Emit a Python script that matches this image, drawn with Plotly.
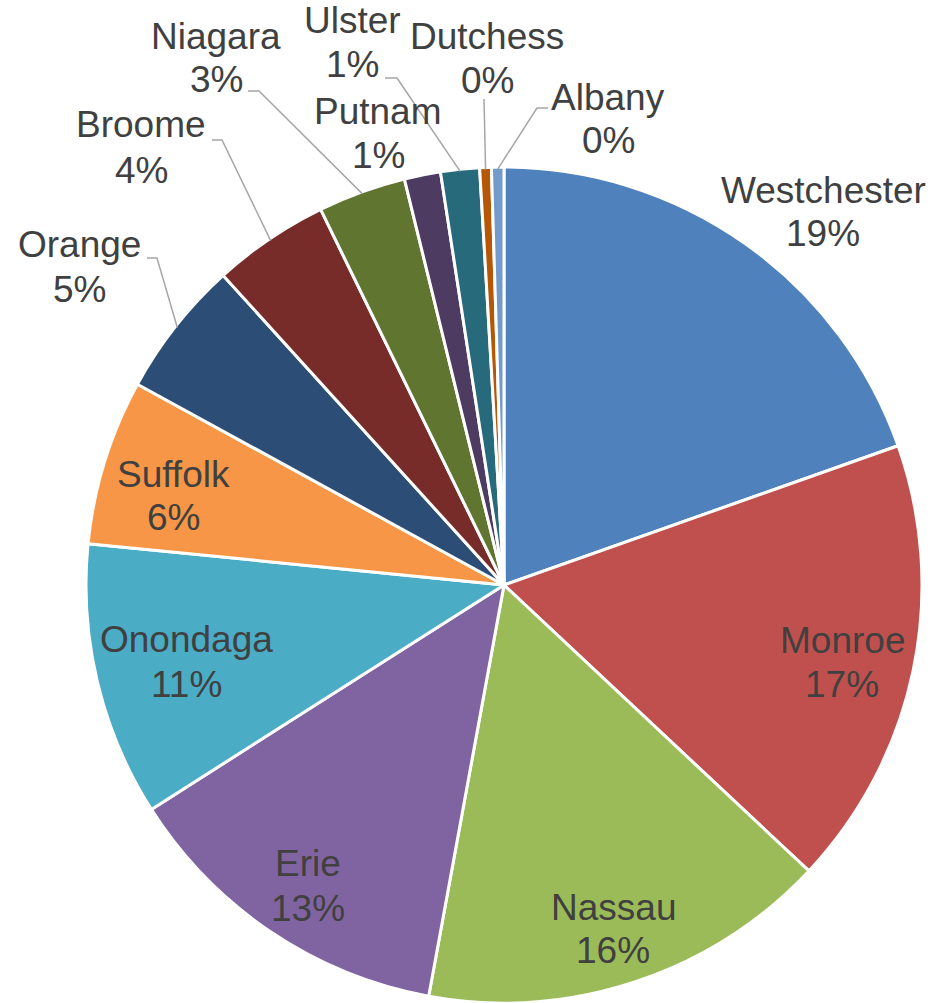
import math
import plotly.graph_objects as go

W, H = 943, 1003

counties = ["Westchester", "Monroe", "Nassau", "Erie", "Onondaga", "Suffolk", "Orange",
            "Broome", "Niagara", "Putnam", "Ulster", "Dutchess", "Albany"]
shares = [19.6, 17.4, 15.9, 13.1, 10.6, 6.4, 5.3, 4.5, 3.4, 1.4, 1.5, 0.45, 0.48]
pct_labels = ["19%", "17%", "16%", "13%", "11%", "6%", "5%", "4%", "3%", "1%", "1%", "0%", "0%"]
colors = ["#4F81BD", "#C0504D", "#9BBB59", "#8064A2", "#4BACC6", "#F79646", "#2C4D75",
          "#772C2A", "#5F7530", "#4D3B62", "#276A7C", "#B65708", "#729ACA"]

# label layout: (center x px, baseline line1 px, baseline line2 px)
label_pos = {
    "Westchester": (823, 203, 247),
    "Monroe": (842, 653, 697),
    "Nassau": (613, 920, 963),
    "Erie": (308, 876, 921),
    "Onondaga": (186, 652, 697),
    "Suffolk": (173, 487, 530),
    "Orange": (79, 258, 302),
    "Broome": (141, 138, 183),
    "Niagara": (216, 49, 92),
    "Putnam": (378, 125, 168),
    "Ulster": (352, 33, 78),
    "Dutchess": (487, 49, 93),
    "Albany": (608, 110, 153),
}
# leader line start points (px) leading toward the slice edge
leader_pts = {
    "Orange": [(147, 258), (157, 258)],
    "Broome": [(212, 140), (222, 140)],
    "Niagara": [(248, 91), (259, 91)],
    "Ulster": [(385, 78), (397, 78)],
    "Dutchess": [(484, 99)],
    "Albany": [(548, 108), (537, 108)],
}

CX, CY, R = 504, 585, 416
RD = R + 2  # domain half-size (plotly trims a little for the outline)
FS = 37
FONT = "Liberation Sans, Arial, sans-serif"
TXT = "#404040"

fig = go.Figure(go.Pie(
    labels=counties, values=shares, sort=False, direction="clockwise", rotation=0,
    marker=dict(colors=colors, line=dict(color="white", width=3)),
    textinfo="none", showlegend=False,
    domain=dict(x=[(CX - RD) / W, (CX + RD) / W], y=[1 - (CY + RD) / H, 1 - (CY - RD) / H]),
))

def px2paper(x, y):
    return x / W, 1 - y / H

annotations = []
for name, pct in zip(counties, pct_labels):
    cx, b1, b2 = label_pos[name]
    for txt, b in ((name, b1), (pct, b2)):
        px, py = px2paper(cx, b - 13)
        annotations.append(dict(x=px, y=py, xref="paper", yref="paper", text=txt,
                                showarrow=False, xanchor="center", yanchor="middle",
                                font=dict(family=FONT, size=FS, color=TXT)))

total = sum(shares)
shapes = []
cum = 0.0
for name, v in zip(counties, shares):
    mid = (cum + v / 2) / total * 2 * math.pi
    cum += v
    if name in leader_pts:
        ex = CX + R * math.sin(mid)
        ey = CY - R * math.cos(mid)
        pts = leader_pts[name] + [(ex, ey)]
        path = ""
        for i, (x, y) in enumerate(pts):
            px, py = px2paper(x, y)
            path += ("M" if i == 0 else " L") + f" {px} {py}"
        shapes.append(dict(type="path", path=path, xref="paper", yref="paper",
                           line=dict(color="#A6A6A6", width=1.5)))

fig.update_layout(
    width=W, height=H, margin=dict(l=0, r=0, t=0, b=0),
    paper_bgcolor="white", plot_bgcolor="white",
    annotations=annotations, shapes=shapes,
)
fig.write_html("out.html", config={"displayModeBar": False},
               post_script="document.body.style.margin='0';document.body.style.padding='0';"
                           "document.body.style.overflow='hidden';")
